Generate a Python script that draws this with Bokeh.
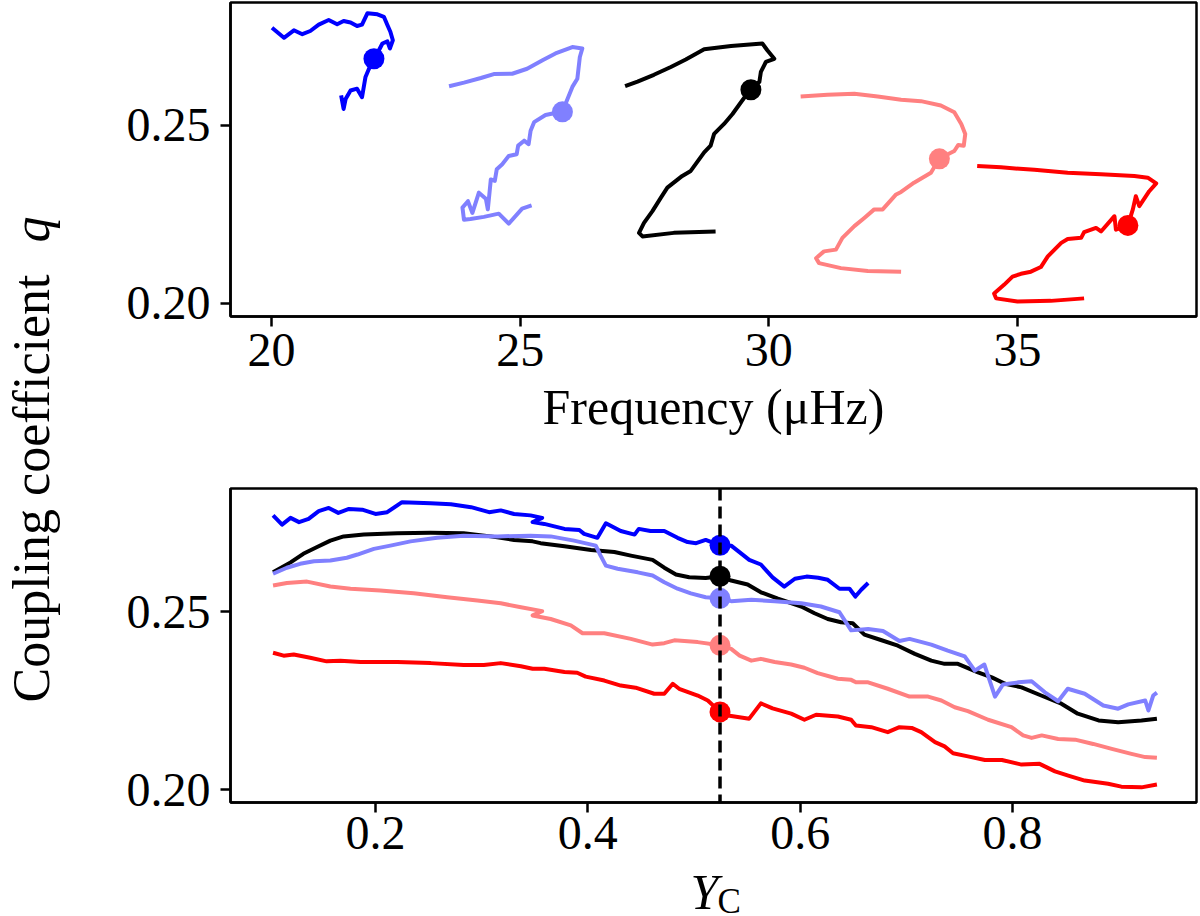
import math
from bokeh.plotting import figure
from bokeh.layouts import row, column
from bokeh.models import Range1d, FixedTicker, Span, NumeralTickFormatter
from bokeh.core.properties import value
from bokeh.embed import file_html
from bokeh.resources import INLINE

SERIF = "Liberation Serif"

# colours of the five tracks: blue, light blue, black, light red, red
names = ["blue", "lightblue", "black", "salmon", "red"]
colors = ["#0000ff", "#8080ff", "#000000", "#ff8080", "#ff0000"]

# top panel: q against frequency (muHz)
freq_blue = [20.01, 20.25, 20.45, 20.62, 20.78, 20.95, 21.15, 21.32, 21.45, 21.59, 21.72, 21.82, 21.93, 22.13, 22.26,
             22.33, 22.39, 22.44, 22.38, 22.33, 22.23, 22.16, 22.06, 21.96, 21.89, 21.82, 21.72, 21.59, 21.49, 21.45, 21.40]
qf_blue = [.2773, .2745, .2766, .2755, .2764, .2782, .2795, .2783, .2792, .2788, .2778, .2782, .2814, .2811, .2804,
           .2781, .2762, .2738, .2715, .2735, .2729, .2710, .2686, .2658, .2635, .2578, .2602, .2597, .2573, .2545, .2583]

freq_lightblue = [23.57, 23.87, 24.21, 24.47, 24.84, 25.14, 25.45, 25.71, 26.05, 26.25, 26.20, 26.15, 26.05, 25.85, 25.51,
                  25.28, 25.21, 25.17, 25.08, 24.96, 24.93, 24.77, 24.64, 24.53, 24.49, 24.41, 24.35, 24.31, 24.17, 24.04,
                  23.95, 23.84, 23.87, 24.00, 24.27, 24.57, 24.77, 25.04, 25.23]
qf_lightblue = [.2609, .2619, .2632, .2643, .2644, .2658, .2682, .2701, .2719, .2715, .2691, .2630, .2607, .2538, .2528,
                .2508, .2484, .2446, .2456, .2442, .2418, .2413, .2390, .2376, .2343, .2347, .2263, .2293, .2310, .2253,
                .2286, .2268, .2234, .2236, .2242, .2251, .2223, .2265, .2274]

freq_black = [27.11, 27.36, 27.69, 28.03, 28.33, 28.70, 29.24, 29.87, 29.97, 30.11, 29.94, 29.84, 29.81, 29.64, 29.44,
              29.27, 29.10, 28.90, 28.83, 28.70, 28.43, 28.26, 27.96, 27.83, 27.66, 27.49, 27.39, 27.46, 28.09, 28.93]
qf_black = [.2609, .2622, .2641, .2663, .2684, .2713, .2722, .2729, .2710, .2686, .2677, .2649, .2621, .2602, .2564,
            .2531, .2503, .2475, .2442, .2423, .2371, .2357, .2324, .2296, .2258, .2225, .2197, .2187, .2197, .2201]

freq_salmon = [30.64, 31.18, 31.72, 32.19, 32.66, 33.06, 33.46, 33.73, 33.87, 33.95, 33.92, 33.81, 33.73, 33.43, 33.26,
               32.92, 32.66, 32.56, 32.29, 32.12, 31.92, 31.72, 31.48, 31.35, 31.11, 30.95, 31.01, 31.45, 31.99, 32.66]
qf_salmon = [.2580, .2585, .2588, .2580, .2571, .2567, .2555, .2536, .2503, .2475, .2442, .2444, .2427, .2406, .2366,
             .2338, .2312, .2305, .2263, .2263, .2239, .2216, .2183, .2150, .2145, .2126, .2112, .2098, .2090, .2088]

freq_red = [34.19, 34.67, 35.34, 36.01, 36.68, 37.35, 37.62, 37.79, 37.65, 37.45, 37.38, 37.32, 37.22, 36.98, 36.95,
            36.68, 36.58, 36.34, 36.28, 36.01, 35.88, 35.61, 35.47, 35.27, 35.07, 34.90, 34.73, 34.53, 34.57, 35.00,
            35.67, 36.34]
qf_red = [.2385, .2381, .2374, .2366, .2362, .2357, .2352, .2336, .2314, .2272, .2300, .2263, .2218, .2206, .2244,
          .2201, .2211, .2199, .2183, .2180, .2169, .2131, .2101, .2088, .2082, .2074, .2051, .2027, .2013, .2004,
          .2006, .2013]

# bottom panel: q against Y_C
yc_blue = [.1035, .112, .120, .128, .137, .1465, .156, .165, .175, .1875, .200, .211, .225, .252, .271, .290, .307, .318,
           .3305, .346, .357, .348, .359, .378, .392, .3965, .409, .417, .431, .444, .448, .459, .472, .4845, .494, .502,
           .511, .5245, .535, .541, .552, .563, .574, .585, .595, .606, .617, .626, .637, .6465, .652, .6575, .664]
qy_blue = [.2770, .2744, .2763, .2751, .2760, .2782, .2791, .2777, .2788, .2786, .2774, .2779, .2807, .2804, .2801,
           .2793, .2779, .2784, .2774, .2770, .2763, .2751, .2746, .2732, .2729, .2718, .2707, .2748, .2726, .2716,
           .2732, .2726, .2726, .2707, .2695, .2692, .2701, .2686, .2685, .2671, .2645, .2632, .2596, .2570, .2592,
           .2598, .2595, .2589, .2564, .2564, .2542, .2561, .2580]

yc_lightblue = [.1035, .1165, .129, .142, .1575, .173, .183, .1985, .214, .233, .258, .283, .315, .346, .365, .387,
                .4075, .412, .417, .428, .447, .461, .472, .4845, .497, .511, .5245, .535, .554, .576, .601, .6195, .637,
                .648, .664, .678, .6935, .703, .7235, .739, .755, .7645, .7735, .7835, .791, .8055, .818, .8305, .843,
                .852, .868, .8855, .8995, .909, .925, .928, .9325, .936]
qy_lightblue = [.2606, .2623, .2634, .2641, .2643, .2651, .2660, .2676, .2685, .2697, .2707, .2713, .2711, .2713, .2711,
                .2699, .2685, .2657, .2629, .2620, .2610, .2601, .2582, .2564, .2551, .2540, .2537, .2529, .2533, .2529,
                .2523, .2514, .2498, .2447, .2451, .2445, .2417, .2423, .2407, .2390, .2374, .2334, .2351, .2261, .2295,
                .2301, .2304, .2273, .2248, .2283, .2269, .2236, .2227, .2239, .2250, .2222, .2264, .2272]

yc_black = [.1035, .120, .132, .145, .1575, .170, .189, .2205, .252, .283, .3085, .3305, .348, .3555, .378, .403, .425,
            .4405, .461, .472, .483, .4955, .511, .5245, .535, .5505, .563, .579, .601, .6135, .626, .6385, .6495,
            .6605, .676, .692, .708, .7235, .736, .7485, .7675, .7805, .793, .8085, .827, .846, .8615, .881, .8995,
            .9215, .936]
qy_black = [.2610, .2638, .2662, .2681, .2699, .2711, .2716, .2720, .2721, .2720, .2711, .2701, .2697, .2692, .2683,
            .2673, .2667, .2657, .2645, .2623, .2604, .2596, .2594, .2599, .2587, .2576, .2554, .2536, .2514, .2495,
            .2479, .2470, .2467, .2435, .2420, .2404, .2381, .2362, .2353, .2353, .2329, .2315, .2297, .2287, .2264,
            .2241, .2213, .2194, .2189, .2194, .2199]

yc_salmon = [.1035, .1165, .1355, .1575, .1765, .2045, .236, .2675, .296, .318, .337, .357, .348, .365, .384, .395,
             .4155, .4405, .461, .472, .4815, .5035, .5245, .535, .543, .554, .563, .576, .5915, .604, .6165, .6355,
             .648, .6525, .664, .6825, .703, .7205, .733, .7455, .758, .777, .799, .81, .818, .8275, .843, .859, .876,
             .8935, .912, .925, .936]
qy_salmon = [.2573, .2580, .2584, .2570, .2564, .2559, .2551, .2540, .2531, .2523, .2512, .2501, .2489, .2479, .2461,
             .2439, .2439, .2423, .2407, .2411, .2419, .2414, .2405, .2395, .2376, .2362, .2367, .2358, .2351, .2342,
             .2327, .2311, .2308, .2301, .2301, .2283, .2261, .2261, .2250, .2231, .2220, .2196, .2175, .2152, .2145,
             .2152, .2142, .2140, .2128, .2114, .2100, .2091, .2089]

yc_red = [.1035, .1135, .123, .1385, .154, .167, .186, .2205, .252, .283, .302, .318, .337, .348, .359, .378, .390, .398,
          .4155, .431, .445, .4625, .472, .480, .486, .5035, .513, .5245, .532, .552, .563, .574, .5915, .604, .615,
          .6355, .648, .6525, .667, .6825, .6935, .705, .714, .727, .736, .744, .758, .774, .79, .8085, .8255, .84,
          .8525, .868, .890, .9025, .9215, .936]
qy_red = [.2384, .2376, .2379, .2370, .2360, .2362, .2358, .2358, .2355, .2350, .2350, .2355, .2346, .2339, .2339,
          .2330, .2328, .2317, .2306, .2292, .2286, .2269, .2269, .2297, .2283, .2264, .2250, .2218, .2208, .2199,
          .2242, .2228, .2213, .2196, .2210, .2205, .2196, .2180, .2175, .2161, .2175, .2173, .2161, .2133, .2121,
          .2102, .2093, .2083, .2083, .2070, .2072, .2051, .2039, .2025, .2016, .2008, .2006, .2014]

# the marked model on each track
yc_mark = 0.5245
freq_mark = [22.06, 25.85, 29.64, 33.43, 37.22]
q_mark = [0.2686, 0.2537, 0.2599, 0.2405, 0.2218]

top_x = [freq_blue, freq_lightblue, freq_black, freq_salmon, freq_red]
top_y = [qf_blue, qf_lightblue, qf_black, qf_salmon, qf_red]
bot_x = [yc_blue, yc_lightblue, yc_black, yc_salmon, yc_red]
bot_y = [qy_blue, qy_lightblue, qy_black, qy_salmon, qy_red]

draw_order = [4, 3, 2, 1, 0]
LW = 4
DOT = 21
YC_LO, YC_HI = 0.06343, 0.97329


def style(p):
    p.grid.visible = False
    p.background_fill_color = "white"
    p.border_fill_color = "white"
    p.outline_line_color = "black"
    p.outline_line_width = 2.5
    p.outline_line_alpha = 1.0
    p.axis.axis_line_width = 2.5
    p.axis.axis_line_color = "black"
    p.axis.major_tick_out = 10
    p.axis.major_tick_in = 0
    p.axis.major_tick_line_width = 2.5
    p.axis.minor_tick_line_color = None
    p.axis.major_label_text_font = SERIF
    p.axis.major_label_text_font_size = "48px"
    p.axis.major_label_text_color = "black"
    p.yaxis.major_label_standoff = 10
    p.yaxis.ticker = FixedTicker(ticks=[0.20, 0.25])
    p.yaxis.formatter = NumeralTickFormatter(format="0.00")


top = figure(frame_width=966, frame_height=314, min_border_left=150, min_border_right=3,
             min_border_top=2, min_border_bottom=124,
             x_range=Range1d(19.1755, 38.600), y_range=Range1d(0.19621, 0.28441),
             output_backend="svg", toolbar_location=None)
style(top)
top.xaxis.major_label_standoff = 7
top.xaxis.ticker = FixedTicker(ticks=[20, 25, 30, 35])
top.xaxis.formatter = NumeralTickFormatter(format="0")
top.xaxis.axis_label = "Frequency (μHz)"
top.xaxis.axis_label_text_font = SERIF
top.xaxis.axis_label_text_font_size = "50px"
top.xaxis.axis_label_text_font_style = "normal"
top.xaxis.axis_label_text_color = "black"
top.xaxis.axis_label_standoff = 10

for i in draw_order:
    top.line(top_x[i], top_y[i], line_color=colors[i], line_width=LW, line_join="round")
    top.scatter([freq_mark[i]], [q_mark[i]], size=DOT, fill_color=colors[i], line_color=None)

bottom = figure(frame_width=966, frame_height=314, min_border_left=150, min_border_right=3,
                min_border_top=48, min_border_bottom=72,
                x_range=Range1d(YC_LO, YC_HI), y_range=Range1d(0.19635, 0.28455),
                output_backend="svg", toolbar_location=None)
style(bottom)
bottom.xaxis.major_label_standoff = 4
bottom.xaxis.ticker = FixedTicker(ticks=[0.2, 0.4, 0.6, 0.8])
bottom.xaxis.formatter = NumeralTickFormatter(format="0.0")

bottom.add_layout(Span(location=yc_mark, dimension="height", line_color="black",
                       line_width=3.5, line_dash="12 6"))
for i in draw_order:
    bottom.line(bot_x[i], bot_y[i], line_color=colors[i], line_width=LW, line_join="round")
for i in draw_order:
    bottom.scatter([yc_mark], [q_mark[i]], size=DOT, fill_color=colors[i], line_color=None)

# x label of the lower panel (italic Y, roman subscript C) in its own strip,
# with the same frame as the lower panel so that its x scale lines up
xlab = figure(frame_width=966, frame_height=42, min_border_left=150, min_border_right=3,
              min_border_top=0, min_border_bottom=0,
              x_range=Range1d(YC_LO, YC_HI), y_range=Range1d(0, 42),
              x_axis_location=None, y_axis_location=None,
              output_backend="svg", toolbar_location=None)
xlab.grid.visible = False
xlab.outline_line_color = None
xlab.text(x=[0.4967], y=[25], text=["Y"], text_align="left", text_baseline="middle",
          text_font=value(SERIF), text_font_size="50px", text_font_style="italic", text_color="black")
xlab.text(x=[0.5221], y=[15], text=["C"], text_align="left", text_baseline="middle",
          text_font=value(SERIF), text_font_size="35px", text_color="black")

# shared y label on the left
lab = figure(width=80, height=916, x_range=Range1d(0, 80), y_range=Range1d(0, 916),
             x_axis_location=None, y_axis_location=None, min_border=0,
             output_backend="svg", toolbar_location=None)
lab.grid.visible = False
lab.outline_line_color = None
lab.text(x=[31], y=[214], text=["Coupling coefficient"], angle=math.pi / 2, text_align="left",
         text_baseline="middle", text_font=value(SERIF), text_font_size="52px", text_color="black")
lab.text(x=[31], y=[700], text=["q"], angle=math.pi / 2, text_align="right",
         text_baseline="middle", text_font=value(SERIF), text_font_size="52px",
         text_font_style="italic", text_color="black")

layout = row(lab, column(top, bottom, xlab))

open("out.html", "w").write(file_html(layout, INLINE))
